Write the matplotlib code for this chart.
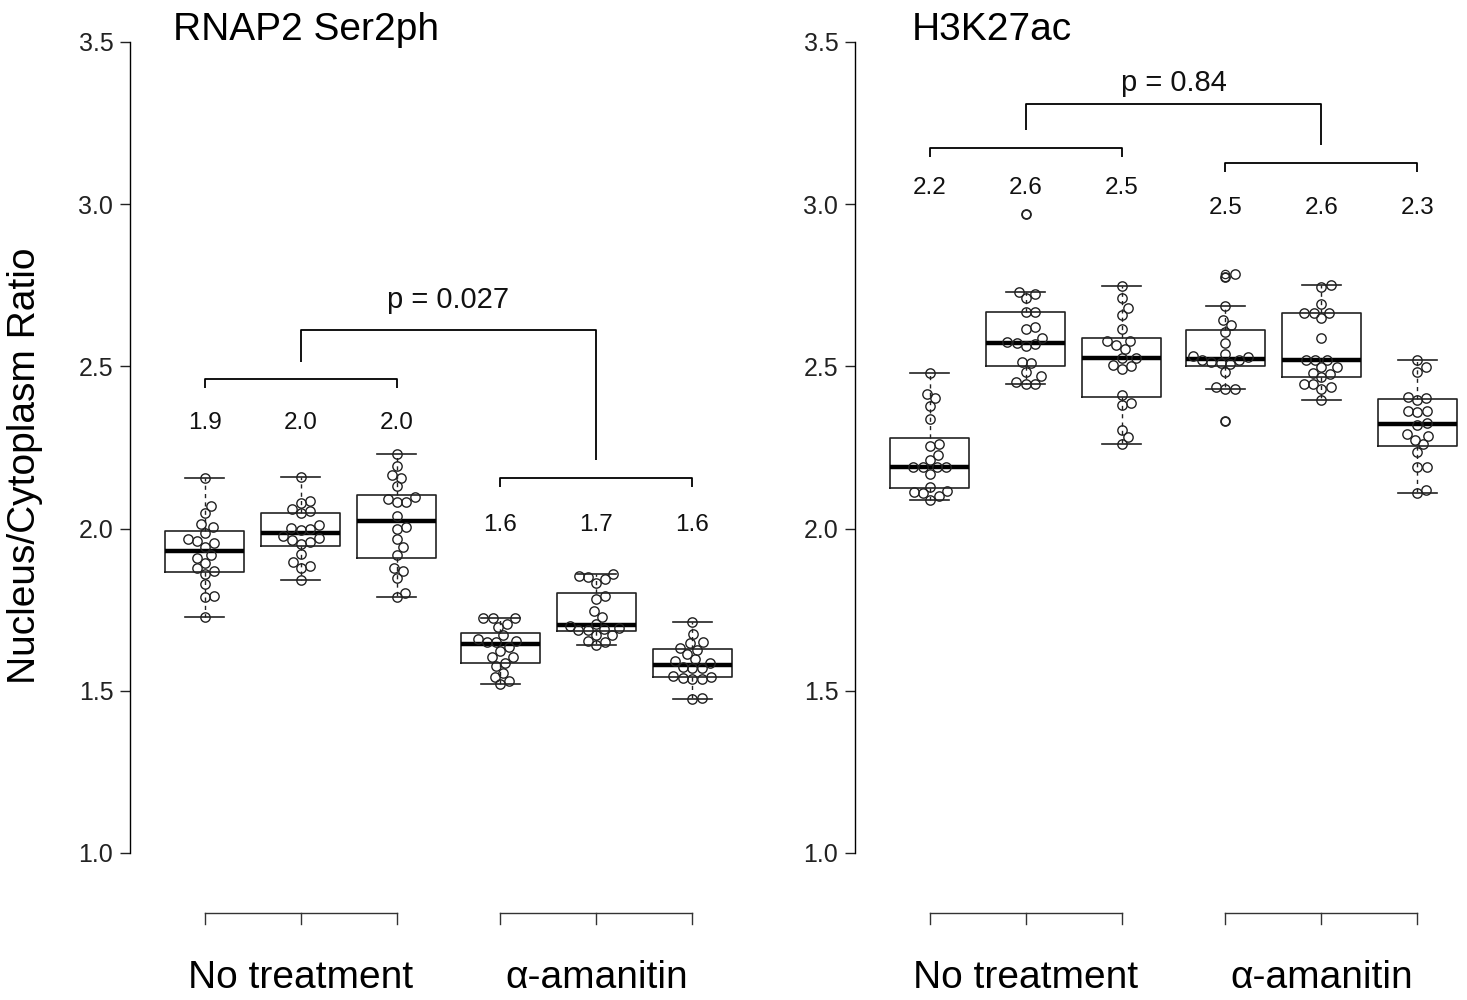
import matplotlib
matplotlib.use("Agg")
import matplotlib.pyplot as plt
import numpy as np

plt.rcParams["font.family"] = ["Liberation Sans", "DejaVu Sans"]

# ---- data (nucleus/cytoplasm ratio per cell) ----
positions = [1, 2, 3, 4.08, 5.08, 6.08]
group_names = ["No treatment", "\u03b1-amanitin"]

ser2_nt1 = [2.155, 2.071, 2.049, 2.014, 2.004, 1.987, 1.967, 1.963, 1.955, 1.944,
            1.919, 1.908, 1.895, 1.878, 1.869, 1.859, 1.829, 1.790, 1.792, 1.726]
ser2_nt2 = [2.160, 2.086, 2.080, 2.060, 2.055, 2.047, 2.011, 2.002, 1.996, 1.999,
            1.977, 1.970, 1.965, 1.958, 1.953, 1.921, 1.898, 1.885, 1.880, 1.841]
ser2_nt3 = [2.230, 2.193, 2.165, 2.157, 2.131, 2.091, 2.081, 2.081, 2.096, 2.040,
            1.998, 2.004, 1.967, 1.942, 1.919, 1.880, 1.870, 1.847, 1.788, 1.803]
ser2_am1 = [1.723, 1.723, 1.723, 1.706, 1.698, 1.673, 1.659, 1.655, 1.651, 1.651,
            1.636, 1.624, 1.603, 1.605, 1.587, 1.576, 1.556, 1.544, 1.530, 1.520]
ser2_am2 = [1.860, 1.855, 1.850, 1.844, 1.833, 1.792, 1.782, 1.746, 1.729, 1.706,
            1.700, 1.693, 1.690, 1.687, 1.687, 1.672, 1.672, 1.655, 1.651, 1.641]
ser2_am3 = [1.711, 1.674, 1.646, 1.649, 1.633, 1.626, 1.612, 1.597, 1.592, 1.585,
            1.574, 1.569, 1.571, 1.547, 1.540, 1.535, 1.536, 1.544, 1.475, 1.477]

k27_nt1 = [2.479, 2.415, 2.402, 2.378, 2.338, 2.256, 2.261, 2.227, 2.211, 2.189,
           2.189, 2.189, 2.189, 2.168, 2.129, 2.114, 2.109, 2.116, 2.100, 2.088]
k27_nt2 = [2.969, 2.730, 2.722, 2.710, 2.669, 2.669, 2.622, 2.614, 2.574, 2.573,
           2.589, 2.563, 2.569, 2.515, 2.509, 2.484, 2.470, 2.451, 2.445, 2.445]
k27_nt3 = [2.748, 2.710, 2.681, 2.658, 2.614, 2.578, 2.578, 2.566, 2.553, 2.525,
           2.525, 2.504, 2.491, 2.501, 2.412, 2.381, 2.386, 2.304, 2.281, 2.260]
k27_am1 = [2.777, 2.784, 2.687, 2.643, 2.628, 2.605, 2.573, 2.528, 2.520, 2.537,
           2.509, 2.507, 2.515, 2.520, 2.532, 2.482, 2.435, 2.429, 2.429, 2.332]
k27_am2 = [2.744, 2.751, 2.692, 2.666, 2.666, 2.648, 2.664, 2.587, 2.520, 2.520,
           2.520, 2.499, 2.497, 2.481, 2.477, 2.466, 2.446, 2.446, 2.429, 2.435, 2.396]
k27_am3 = [2.520, 2.497, 2.484, 2.407, 2.396, 2.404, 2.364, 2.360, 2.363, 2.319,
           2.324, 2.292, 2.273, 2.285, 2.260, 2.237, 2.189, 2.189, 2.109, 2.119]

ser2_means = ["1.9", "2.0", "2.0", "1.6", "1.7", "1.6"]
k27_means = ["2.2", "2.6", "2.5", "2.5", "2.6", "2.3"]

ser2_p = "p = 0.027"
k27_p = "p = 0.84"

# annotation heights (data units): group brackets, mean labels, top bracket, p text
ser2_ann = dict(grp=[2.460, 2.156], lab=[2.325, 2.011], top=2.612, ptxt=2.705)
k27_ann = dict(grp=[3.173, 3.127], lab=[3.051, 2.988], top=3.310, ptxt=3.373)

MARKER_PX = 9.6


def swarm(ax, x0, ys):
    """Simple beeswarm: offsets in pixel space, returned in data units."""
    trans = ax.transData
    pts = trans.transform(np.column_stack([np.full(len(ys), x0), ys]))
    order = np.argsort(pts[:, 1])
    placed = []
    offs = np.zeros(len(ys))
    for i in order:
        y = pts[i, 1]
        cands = [0.0]
        for (px, py) in placed:
            dy = y - py
            if abs(dy) < MARKER_PX:
                dx = np.sqrt(MARKER_PX ** 2 - dy ** 2)
                cands += [px + dx, px - dx]
        cands.sort(key=abs)
        for c in cands:
            if all((c - px) ** 2 + (y - py) ** 2 >= MARKER_PX ** 2 - 1e-6 for px, py in placed):
                break
        placed.append((c, y))
        offs[i] = c
    xs_px = pts[:, 0] + offs
    back = trans.inverted().transform(np.column_stack([xs_px, pts[:, 1]]))
    return back[:, 0]


def draw_panel(ax, data, means, ann, ptxt):
    ax.set_xlim(0.22, 6.62)
    ax.set_ylim(1.0, 3.5)

    ax.boxplot(data, positions=positions, widths=0.82, capwidths=0.41,
               patch_artist=False, showfliers=True,
               boxprops=dict(color="#222222", linewidth=1.2),
               medianprops=dict(color="black", linewidth=3.2),
               whiskerprops=dict(color="#222222", linewidth=1.0, linestyle=(0, (3, 3))),
               capprops=dict(color="#222222", linewidth=1.2),
               flierprops=dict(marker="o", markersize=6, markerfacecolor="none",
                               markeredgecolor="#222222", markeredgewidth=0.9))
    for x0, ys in zip(positions, data):
        xs = swarm(ax, x0, ys)
        ax.plot(xs, ys, "o", ms=MARKER_PX * 0.70, mfc="none", mec="#222222", mew=1.0,
                zorder=4)

    ax.set_xlim(0.22, 6.62)
    ax.set_ylim(1.0, 3.5)
    for s in ["top", "right", "bottom"]:
        ax.spines[s].set_visible(False)
    ax.spines["left"].set_bounds(1.0, 3.5)
    ax.spines["left"].set_linewidth(1.0)
    ax.set_xticks([])
    ax.set_yticks([1.0, 1.5, 2.0, 2.5, 3.0, 3.5])
    ax.set_yticklabels(["1.0", "1.5", "2.0", "2.5", "3.0", "3.5"])
    ax.tick_params(axis="y", labelsize=18, length=7, width=1.0, pad=5, colors="#222222")

    kw = dict(color="black", lw=1.3, clip_on=False, solid_capstyle="butt")
    tick = 0.028
    # group brackets and mean labels
    for g in range(2):
        x1, x3 = positions[3 * g], positions[3 * g + 2]
        y = ann["grp"][g]
        ax.plot([x1, x1, x3, x3], [y - tick, y, y, y - tick], **kw)
        for k in range(3):
            ax.text(positions[3 * g + k], ann["lab"][g], means[3 * g + k],
                    ha="center", va="center", fontsize=17.5, color="#111111")
    # comparison bracket
    xa, xb = positions[1], positions[4]
    top = ann["top"]
    ax.plot([xa, xa, xb, xb], [ann["grp"][0] + 0.055, top, top, ann["grp"][1] + 0.055], **kw)
    ax.text((xa + xb) / 2, ann["ptxt"], ptxt, ha="center", va="center",
            fontsize=21, color="#111111")

    # group axis below
    yb = 0.815
    for g in range(2):
        xs3 = positions[3 * g:3 * g + 3]
        ax.plot([xs3[0], xs3[2]], [yb, yb], color="#333333", lw=1.0, clip_on=False)
        for x in xs3:
            ax.plot([x, x], [yb, yb - 0.034], color="#333333", lw=1.0, clip_on=False)
        ax.text(xs3[1], 0.615, group_names[g], ha="center", va="center",
                fontsize=28, color="black")


fig = plt.figure(figsize=(14.67, 10), dpi=100)
ax1 = fig.add_axes([130 / 1467, 0.147, 614 / 1467, 0.811])
ax2 = fig.add_axes([855 / 1467, 0.147, 614 / 1467, 0.811])

draw_panel(ax1, [ser2_nt1, ser2_nt2, ser2_nt3, ser2_am1, ser2_am2, ser2_am3],
           ser2_means, ser2_ann, ser2_p)
draw_panel(ax2, [k27_nt1, k27_nt2, k27_nt3, k27_am1, k27_am2, k27_am3],
           k27_means, k27_ann, k27_p)

fig.text(173 / 1467, 1 - 30 / 1000, "RNAP2 Ser2ph", ha="left", va="center",
         fontsize=28, color="black")
fig.text(912 / 1467, 1 - 30 / 1000, "H3K27ac", ha="left", va="center",
         fontsize=28, color="black")
fig.text(25 / 1467, 1 - 466 / 1000, "Nucleus/Cytoplasm Ratio", rotation=90,
         ha="center", va="center", fontsize=28, color="black")

fig.savefig("out.png", dpi=100)
